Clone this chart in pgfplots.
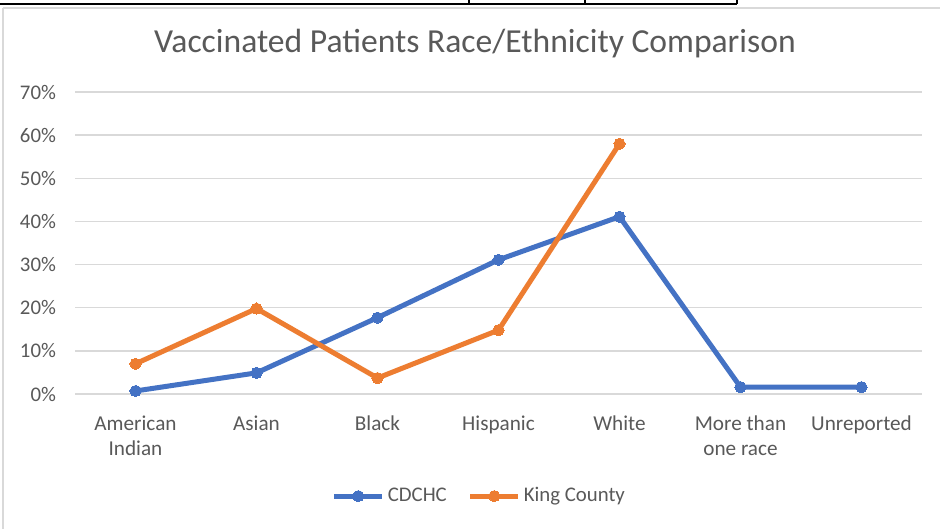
\documentclass[border=0pt]{standalone}
\usepackage{pgfplots}
\pgfplotsset{compat=1.18}
\usepackage{fontspec}
\setmainfont{Carlito}
\definecolor{cblue}{HTML}{4472C4}
\definecolor{corange}{HTML}{ED7D31}
\definecolor{tgray}{HTML}{595959}
\definecolor{ggray}{HTML}{D9D9D9}
\begin{document}
\begin{tikzpicture}
\useasboundingbox (0,0) rectangle (470pt,264.5pt);
\fill[white] (0,0) rectangle (470pt,264.5pt);
% frame of the chart
\draw[ggray, line width=0.8pt] (1.5pt,260.5pt) -- (470pt,260.5pt);
\draw[ggray, line width=0.8pt] (1.5pt,260.5pt) -- (1.5pt,0pt);
% table artefact at the top
\draw[black, line width=1pt] (0pt,262.5pt) -- (368.5pt,262.5pt);
\draw[black, line width=1pt] (234.5pt,262.5pt) -- (234.5pt,264.5pt);
\draw[black, line width=1pt] (292.5pt,262.5pt) -- (292.5pt,264.5pt);
\draw[black, line width=1pt] (368.5pt,262.5pt) -- (368.5pt,264.5pt);
\node[text=tgray, font=\fontsize{16.8}{20}\selectfont] at (237.5pt,242.5pt) {Vaccinated Patients Race/Ethnicity Comparison};
\begin{axis}[
  scale only axis,
  width=423.5pt, height=151pt,
  at={(37.5pt,67.5pt)}, anchor=south west,
  xmin=-0.5, xmax=6.5,
  ymin=0, ymax=0.7,
  ytick={0,0.1,0.2,0.3,0.4,0.5,0.6,0.7},
  yticklabels={0\%,10\%,20\%,30\%,40\%,50\%,60\%,70\%},
  xtick={0,1,2,3,4,5,6},
  xticklabels={American\\Indian, Asian, Black, Hispanic, White, More than\\one race, Unreported},
  xticklabel style={align=center, text=tgray, font=\fontsize{10.6}{12.5}\selectfont, yshift=-7.5pt},
  yticklabel style={text=tgray, font=\fontsize{10.4}{12}\selectfont, xshift=-6pt},
  /pgf/number format/assume math mode=true,
  axis line style={draw=none},
  major tick style={draw=none},
  ymajorgrids, grid style={ggray, line width=0.75pt},
  legend style={at={(0.478,-0.338)}, anchor=center, draw=none, legend columns=2,
    font=\fontsize{10.4}{12}\selectfont, text=tgray, nodes={inner xsep=1.5pt},
    /tikz/every even column/.append style={column sep=9pt}},
  legend image code/.code={
    \draw[#1, mark=none] (0pt,0pt) -- (24pt,0pt);
    \draw[#1, only marks] plot coordinates {(12pt,0pt)};
  },
  clip=false,
]
\addplot[cblue, line width=2.5pt, mark=*, mark size=2.8pt, mark options={solid, fill=cblue, draw=cblue, line width=0pt}]
  coordinates {(0,0.007) (1,0.049) (2,0.177) (3,0.311) (4,0.411) (5,0.016) (6,0.016)};
\addlegendentry{CDCHC}
\addplot[corange, line width=2.5pt, mark=*, mark size=2.8pt, mark options={solid, fill=corange, draw=corange, line width=0pt}]
  coordinates {(0,0.070) (1,0.198) (2,0.037) (3,0.148) (4,0.580)};
\addlegendentry{King County}
\end{axis}
\end{tikzpicture}
\end{document}
